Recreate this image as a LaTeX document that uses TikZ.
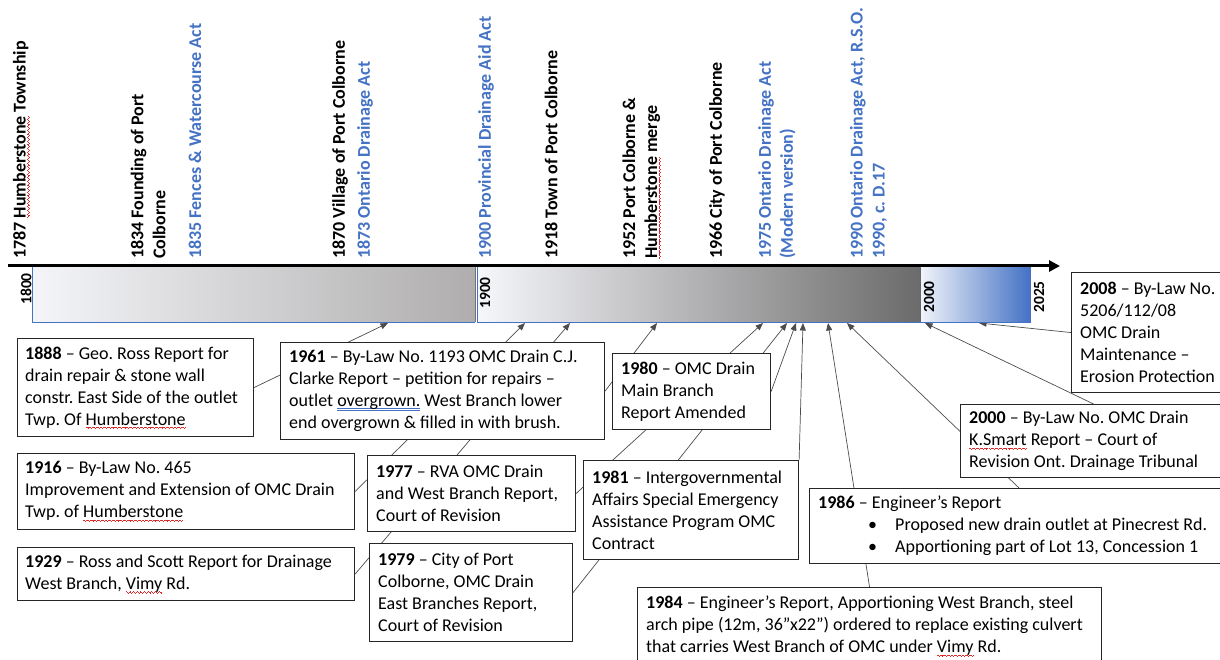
\documentclass[tikz,border=0pt]{standalone}
\usepackage{fontspec}
\setmainfont{Carlito}
\usetikzlibrary{arrows.meta,backgrounds}
\definecolor{accblue}{HTML}{4472C4}
\definecolor{bara}{HTML}{F4F5F9}
\definecolor{barb}{HTML}{AFADAD}
\definecolor{barc}{HTML}{F6F7FB}
\definecolor{bard}{HTML}{6C6B6B}
\definecolor{bare}{HTML}{F2F5FB}
\definecolor{sqred}{HTML}{E02828}
\frenchspacing
\newsavebox\sqbox
\sbox\sqbox{\textcolor{sqred}{\rule[0pt]{0.9pt}{0.55pt}\rule[-0.55pt]{0.9pt}{0.55pt}\rule[-1.1pt]{0.9pt}{0.55pt}\rule[-0.55pt]{0.9pt}{0.55pt}}}
\newcommand\redsq[1]{\leavevmode\setbox0\hbox{#1}\rlap{\lower2.4pt\hbox to \wd0{\xleaders\copy\sqbox\hfil}}#1}
\newcommand\bluedbl[1]{\leavevmode\setbox0\hbox{#1}\rlap{\textcolor{accblue}{\rule[-2.4pt]{\wd0}{0.6pt}\llap{\rule[-4.2pt]{\wd0}{0.6pt}}}}#1}
\begin{document}
\begin{tikzpicture}[x=1pt,y=-1pt,
  toplab/.style={rotate=90, anchor=west, align=left, inner sep=0pt, font=\fontsize{18}{22}\selectfont\bfseries},
  yrlab/.style={rotate=90, inner sep=0pt, font=\fontsize{15.5}{18}\selectfont\bfseries},
  evbox/.style={draw=black!85, line width=1.1pt, fill=white, anchor=north west, inner sep=0pt},
  evtext/.style={anchor=west, align=left, inner sep=0pt, font=\fontsize{18}{22}\selectfont},
  conn/.style={draw=black!70, line width=0.7pt, -{Triangle[length=7.5pt,width=6pt]}}]
\useasboundingbox (0,0) rectangle (1220,660);
\clip (0,0) rectangle (1220,660);

% bars
\shade[left color=bara, right color=barb] (32,266) rectangle (475,322);
\draw[accblue, line width=1pt] (32,266) -- (32,322) -- (475,322);
\draw[black!55, line width=1pt] (475,266) -- (475,322);
\shade[left color=barc, right color=bard] (477,266) rectangle (920,322);
\draw[accblue, line width=1pt] (477,266) -- (477,322) -- (920,322);
\shade[left color=bare, right color=accblue] (920,266) rectangle (1030,322);
\draw[accblue, line width=1pt] (920,322) -- (1030,322) -- (1030,266);
\draw[black!60, line width=1pt] (920,266) -- (920,322);

% axis
\coordinate (axs) at (8,266);
\coordinate (axe) at (1060,266);
\draw[line width=3pt, -{Triangle[length=11pt,width=11pt]}] (axs) -- (axe);

% year labels on bars
\node[yrlab] (y1800) at (26,289) {1800};
\node[yrlab] (y1900) at (485,293) {1900};
\node[yrlab] (y2000) at (929,297) {2000};
\node[yrlab] (y2025) at (1039,297) {2025};

% top labels
\node[toplab] (l1787) at (21,259) {1787 \redsq{Humberstone} Township};
\node[toplab] (l1834) at (148,259) {1834 Founding of Port\\Colborne};
\node[toplab, text=accblue] (l1835) at (195,259) {1835 Fences \& Watercourse Act};
\node[toplab] (l1870) at (340,259) {1870 Village of Port Colborne};
\node[toplab, text=accblue] (l1873) at (365,259) {1873 Ontario Drainage Act};
\node[toplab, text=accblue] (l1900) at (486,259) {1900 Provincial Drainage Aid Act};
\node[toplab] (l1918) at (551,259) {1918 Town of Port Colborne};
\node[toplab] (l1952) at (641.5,259) {1952 Port Colborne \&\\\redsq{Humberstone} merge};
\node[toplab] (l1966) at (717,259) {1966 City of Port Colborne};
\node[toplab, text=accblue] (l1975) at (777,259) {1975 Ontario Drainage Act\\(Modern version)};
\node[toplab, text=accblue] (l1990) at (868.5,259) {1990 Ontario Drainage Act, R.S.O.\\1990, c. D.17};

% arrow targets on the bar
\coordinate (a1888) at (388,323);
\coordinate (a1916) at (525,323);
\coordinate (a1929) at (570,323);
\coordinate (a1961) at (657,323);
\coordinate (a1977) at (763,323);
\coordinate (a1979) at (787,323);
\coordinate (a1980) at (796,323);
\coordinate (a1981) at (803,323);
\coordinate (a1984) at (828,323);
\coordinate (a1986) at (847,323);
\coordinate (a2000) at (925,323);
\coordinate (a2008) at (979,323);

% boxes
\node[evbox, minimum width=236pt, minimum height=98pt] (b1888) at (17,338) {};
\node[evtext] (t1888) at ([xshift=8pt]b1888.west) {\textbf{1888} – Geo. Ross Report for\\drain repair \& stone wall\\constr. East Side of the outlet\\Twp. Of \redsq{Humberstone}};

\node[evbox, minimum width=324pt, minimum height=97pt] (b1961) at (280,342) {};
\node[evtext] (t1961) at ([xshift=9pt]b1961.west) {\textbf{1961} – By-Law No. 1193 OMC Drain C.J.\\Clarke Report – petition for repairs –\\outlet \bluedbl{overgrown.} West Branch lower\\end overgrown \& filled in with brush.};

\node[evbox, minimum width=337pt, minimum height=76pt] (b1916) at (17,453) {};
\node[evtext] (t1916) at ([xshift=8pt]b1916.west) {\textbf{1916} – By-Law No. 465\\Improvement and Extension of OMC Drain\\Twp. of \redsq{Humberstone}};

\node[evbox, minimum width=337pt, minimum height=53pt] (b1929) at (17,547) {};
\node[evtext] (t1929) at ([xshift=8pt]b1929.west) {\textbf{1929} – Ross and Scott Report for Drainage\\West Branch, \redsq{Vimy} Rd.};

\node[evbox, minimum width=208pt, minimum height=76pt] (b1977) at (367,455) {};
\node[evtext] (t1977) at ([xshift=9pt]b1977.west) {\textbf{1977} – RVA OMC Drain\\and West Branch Report,\\Court of Revision};

\node[evbox, minimum width=203pt, minimum height=98pt] (b1979) at (369,543) {};
\node[evtext] (t1979) at ([xshift=9pt]b1979.west) {\textbf{1979} – City of Port\\Colborne, OMC Drain\\East Branches Report,\\Court of Revision};

\node[evbox, minimum width=158pt, minimum height=76pt] (b1980) at (612,353) {};
\node[evtext] (t1980) at ([xshift=9pt]b1980.west) {\textbf{1980} – OMC Drain\\Main Branch\\Report Amended};

\node[evbox, minimum width=215pt, minimum height=99pt] (b1981) at (583,460) {};
\node[evtext] (t1981) at ([xshift=9pt]b1981.west) {\textbf{1981} – Intergovernmental\\Affairs Special Emergency\\Assistance Program OMC\\Contract};

\node[evbox, minimum width=464pt, minimum height=77pt] (b1984) at (637,587) {};
\node[evtext] (t1984) at ([xshift=9pt]b1984.west) {\textbf{1984} – Engineer’s Report, Apportioning West Branch, steel\\arch pipe (12m, 36”x22”) ordered to replace existing culvert\\that carries West Branch of OMC under \redsq{Vimy} Rd.};

\node[evbox, minimum width=419pt, minimum height=75pt] (b1986) at (809,488) {};
\node[evtext] (t1986) at ([xshift=9pt]b1986.west) {\textbf{1986} – Engineer’s Report\\\hspace*{50pt}\makebox[27pt][l]{•}Proposed new drain outlet at Pinecrest Rd.\\\hspace*{50pt}\makebox[27pt][l]{•}Apportioning part of Lot 13, Concession 1};

\node[evbox, minimum width=266pt, minimum height=73pt] (b2000) at (960,404) {};
\node[evtext] (t2000) at ([xshift=9pt]b2000.west) {\textbf{2000} – By-Law No. OMC Drain\\\redsq{K.Smart} Report – Court of\\Revision Ont. Drainage Tribunal};

\node[evbox, minimum width=155pt, minimum height=120pt] (b2008) at (1071,272) {};
\node[evtext] (t2008) at ([xshift=9pt]b2008.west) {\textbf{2008} – By-Law No.\\5206/112/08\\OMC Drain\\Maintenance –\\Erosion Protection};

% connectors (behind the boxes)
\begin{pgfonlayer}{background}
\draw[conn] (b1888.east) -- (a1888);
\draw[conn] (b1916.east) -- (a1916);
\draw[conn] (b1929.east) -- (a1929);
\draw[conn] (b1961.east) -- (a1961);
\draw[conn] (b1977.east) -- (a1977);
\draw[conn] (b1979.east) -- (a1979);
\draw[conn] (b1980.east) -- (a1980);
\draw[conn] (b1981.north east) -- (a1981);
\draw[conn] (b1984.north) -- (a1984);
\draw[conn] (b1986.north) -- (a1986);
\draw[conn] (b2000.north) -- (a2000);
\draw[conn] (b2008.west) -- (a2008);
\end{pgfonlayer}
\end{tikzpicture}
\end{document}
